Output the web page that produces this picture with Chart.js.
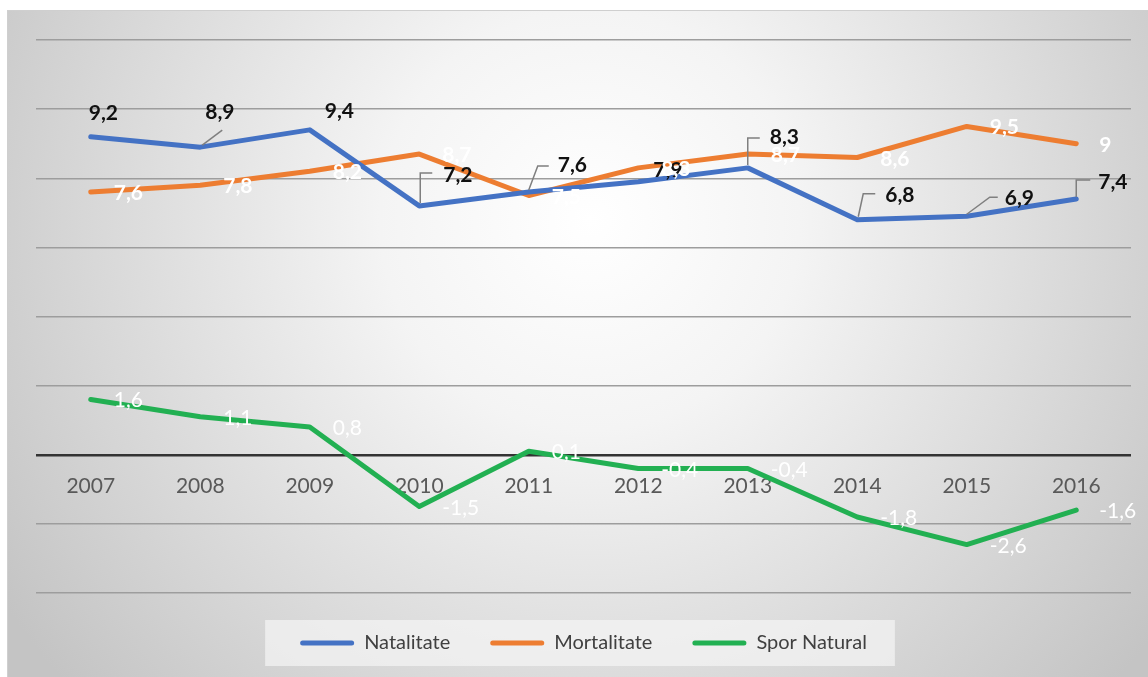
<!DOCTYPE html>
<html>
<head>
<meta charset="utf-8">
<script src="https://cdn.jsdelivr.net/npm/chart.js@4.4.1/dist/chart.umd.min.js"></script>
<style>
  html, body { margin: 0; padding: 0; background: #fff; }
  #wrap { width: 1148px; height: 677px; }
</style>
</head>
<body>
<div id="wrap"><canvas id="chart"></canvas></div>
<script>
// ------- Data ----------------------------------------------------------------
const years       = ['2007', '2008', '2009', '2010', '2011', '2012', '2013', '2014', '2015', '2016'];
const natalitate  = [9.2, 8.9, 9.4, 7.2, 7.6, 7.9, 8.3, 6.8, 6.9, 7.4];
const mortalitate = [7.6, 7.8, 8.2, 8.7, 7.5, 8.3, 8.7, 8.6, 9.5, 9];
const sporNatural = [1.6, 1.1, 0.8, -1.5, 0.1, -0.4, -0.4, -1.8, -2.6, -1.6];

// ------- Label placement (Excel moved the Natalitate labels by hand) --------
// dx/dy: text left + baseline relative to the point; leader: polyline offsets
const natLabelPos = [
  { dx: -2, dy: -17 },
  { dx: 5,  dy: -28, leader: [[2, -2], [22, -17]] },
  { dx: 15, dy: -12 },
  { dx: 24, dy: -24, leader: [[1, -3], [1, -33], [13, -33]] },
  { dx: 29, dy: -20, leader: [[0, -2], [9, -26], [20, -26]] },
  { dx: 15, dy: -5 },
  { dx: 22, dy: -24, leader: [[0, -3], [0, -30], [12, -30]] },
  { dx: 28, dy: -18, leader: [[1, -3], [6, -26], [18, -26]] },
  { dx: 38, dy: -11, leader: [[0, -2], [23, -19], [31, -19]] },
  { dx: 22, dy: -10, leader: [[0, -2], [0, -19], [14, -19]] }
];

const BLUE = '#4472c4', ORANGE = '#ed7d31', GREEN = '#22b052';
const fmt = v => String(v).replace('.', ',');

Chart.defaults.font.family = 'Lato, "Open Sans", sans-serif';

// ------- Plugins -------------------------------------------------------------
const background = {
  id: 'background',
  beforeDraw (chart) {
    const { ctx, width, height } = chart;
    ctx.save();
    ctx.fillStyle = '#fff';
    ctx.fillRect(0, 0, width, height);
    const g = ctx.createRadialGradient(590, 220, 0, 590, 220, 700);
    g.addColorStop(0, '#ffffff');
    g.addColorStop(0.3, '#f4f4f4');
    g.addColorStop(1, '#c4c4c4');
    ctx.fillStyle = g;
    ctx.fillRect(7, 10, width - 7, height - 10);
    ctx.strokeStyle = '#cfcfcf';
    ctx.lineWidth = 1;
    ctx.strokeRect(7.5, 10.5, width, height);

    // light box behind the legend items
    const boxes = chart.legend.legendHitBoxes;
    if (boxes && boxes.length) {
      const first = boxes[0], last = boxes[boxes.length - 1];
      const cy = first.top + first.height / 2;
      ctx.fillStyle = 'rgba(245,245,245,0.7)';
      ctx.fillRect(first.left - 35, cy - 23, last.left + last.width - first.left + 63, 46);
    }
    ctx.restore();
  }
};

const dataLabels = {
  id: 'dataLabels',
  afterDatasetsDraw (chart) {
    const ctx = chart.ctx;
    ctx.save();
    ctx.textAlign = 'left';
    ctx.textBaseline = 'alphabetic';
    chart.data.datasets.forEach((ds, i) => {
      const meta = chart.getDatasetMeta(i);
      meta.data.forEach((pt, j) => {
        const txt = fmt(ds.data[j]);
        if (i === 0) {
          const p = natLabelPos[j];
          if (p.leader) {
            ctx.strokeStyle = '#7f7f7f';
            ctx.lineWidth = 1.5;
            ctx.beginPath();
            p.leader.forEach(([lx, ly], k) => {
              k ? ctx.lineTo(pt.x + lx, pt.y + ly) : ctx.moveTo(pt.x + lx, pt.y + ly);
            });
            ctx.stroke();
          }
          ctx.fillStyle = '#111';
          ctx.font = 'bold 21px Lato, sans-serif';
          ctx.fillText(txt, pt.x + p.dx, pt.y + p.dy);
        } else {
          ctx.fillStyle = '#fff';
          ctx.font = (i === 1 ? 'bold ' : '') + '21px Lato, sans-serif';
          ctx.fillText(txt, pt.x + 23, pt.y + 8);
        }
      });
    });
    ctx.restore();
  }
};

// ------- Chart ---------------------------------------------------------------
const line = (label, data, color) => ({
  label, data,
  borderColor: color,
  backgroundColor: color,
  borderWidth: 5,
  pointRadius: 0,
  tension: 0,
  borderCapStyle: 'round',
  borderJoinStyle: 'round'
});

new Chart(document.getElementById('chart'), {
  type: 'line',
  data: {
    labels: years,
    datasets: [
      line('Natalitate', natalitate, BLUE),
      line('Mortalitate', mortalitate, ORANGE),
      line('Spor Natural', sporNatural, GREEN)
    ]
  },
  options: {
    responsive: true,
    maintainAspectRatio: false,
    animation: false,
    clip: false,
    layout: { padding: { left: 36, right: 17, top: 40, bottom: 14 } },
    plugins: {
      tooltip: { enabled: false },
      legend: {
        position: 'bottom',
        labels: {
          boxWidth: 54,
          boxHeight: 5,
          useBorderRadius: true,
          borderRadius: 2.5,
          padding: 40,
          color: '#404040',
          font: { size: 20 },
          generateLabels (chart) {
            return Chart.defaults.plugins.legend.labels.generateLabels(chart)
              .map(l => ({ ...l, lineWidth: 0 }));
          }
        }
      }
    },
    scales: {
      x: {
        position: { y: 0 },
        offset: true,
        grid: { display: false, drawTicks: false },
        border: { display: false },
        ticks: { color: '#595959', font: { size: 21 }, padding: 19, maxRotation: 0 }
      },
      y: {
        min: -4,
        max: 12,
        ticks: { display: false, stepSize: 2 },
        border: { display: false },
        grid: {
          drawTicks: false,
          color: c => c.tick.value === 0 ? '#333333' : '#9d9d9d',
          lineWidth: c => c.tick.value === 0 ? 2.5 : 1.5
        }
      }
    }
  },
  plugins: [background, dataLabels]
});
</script>
</body>
</html>
